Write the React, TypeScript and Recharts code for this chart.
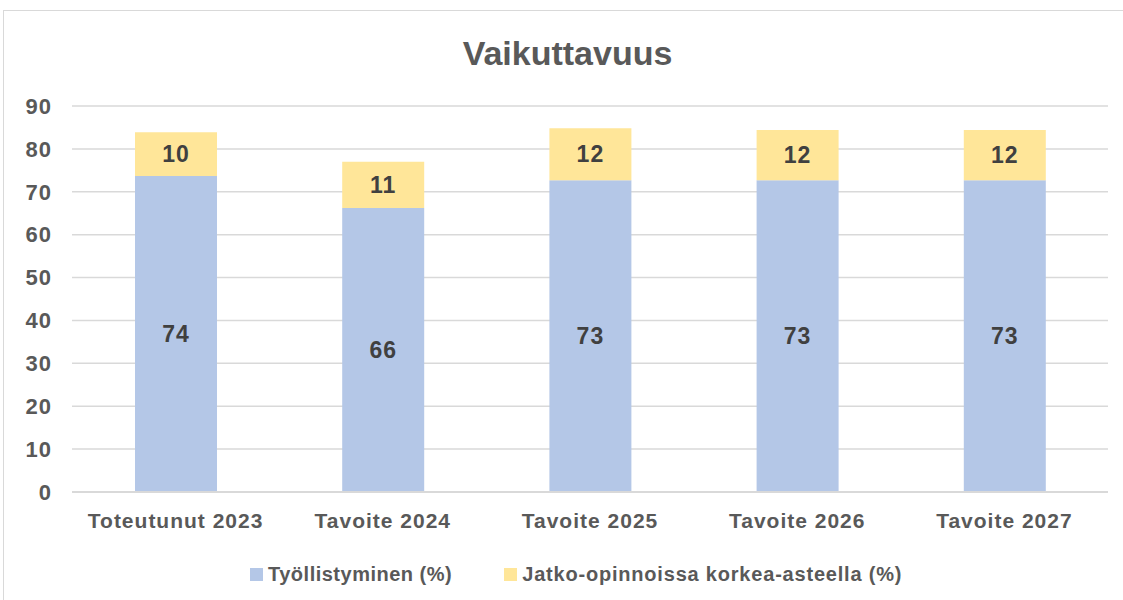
import { Bar, BarChart, CartesianGrid, LabelList, XAxis, YAxis } from 'recharts';

const categories = ['Toteutunut 2023', 'Tavoite 2024', 'Tavoite 2025', 'Tavoite 2026', 'Tavoite 2027'];
const tyollistyminen = [73.7, 66.2, 72.7, 72.7, 72.7];
const jatkoOpinnot = [10.2, 10.8, 12.1, 11.7, 11.7];
const yTicks = [0, 10, 20, 30, 40, 50, 60, 70, 80, 90];

const data = categories.map((name, i) => ({
  name,
  tyo: tyollistyminen[i],
  jatko: jatkoOpinnot[i],
}));

const FONT = '"Liberation Sans", Arial, sans-serif';
const BLUE = '#B4C7E7';
const YELLOW = '#FFE699';

const round = (v: unknown) => Math.round(Number(v));

export default function App() {
  return (
    <div style={{ position: 'absolute', left: 0, top: 0, width: 1123, height: 600, overflow: 'hidden', fontFamily: FONT, background: '#fff' }}>
      <div
        style={{
          position: 'absolute',
          left: 3,
          top: 10,
          width: 1130,
          height: 600,
          border: '1.5px solid #d9d9d9',
        }}
      />
      <div
        style={{
          position: 'absolute',
          top: 34,
          left: 0,
          width: 1135,
          textAlign: 'center',
          fontSize: 34,
          fontWeight: 'bold',
          color: '#595959',
        }}
      >
        Vaikuttavuus
      </div>
      <div style={{ position: 'absolute', left: 0, top: 0 }}>
        <BarChart width={1123} height={600} data={data} margin={{ top: 106, right: 15, bottom: 66, left: 0 }}>
          <CartesianGrid vertical={false} stroke="#d9d9d9" strokeWidth={1.5} />
          <XAxis
            dataKey="name"
            tickLine={false}
            axisLine={{ stroke: '#d9d9d9', strokeWidth: 2 }}
            tick={{ fontSize: 21, fontWeight: 'bold', fill: '#595959', letterSpacing: 1 }}
            tickMargin={15}
            height={42}
          />
          <YAxis
            domain={[0, 90]}
            ticks={yTicks}
            tickLine={false}
            axisLine={false}
            width={72}
            tick={{ fontSize: 22, fontWeight: 'bold', fill: '#595959', letterSpacing: 1 }}
            tickMargin={14}
          />
          <Bar dataKey="tyo" stackId="a" fill={BLUE} barSize={82} isAnimationActive={false}>
            <LabelList
              dataKey="tyo"
              position="center"
              formatter={round}
              style={{ fontSize: 23, fontWeight: 'bold', fill: '#404040', letterSpacing: 1 }}
            />
          </Bar>
          <Bar dataKey="jatko" stackId="a" fill={YELLOW} barSize={82} isAnimationActive={false}>
            <LabelList
              dataKey="jatko"
              position="center"
              formatter={round}
              style={{ fontSize: 23, fontWeight: 'bold', fill: '#404040', letterSpacing: 1 }}
            />
          </Bar>
        </BarChart>
      </div>
      <div
        style={{
          position: 'absolute',
          top: 563,
          left: 250,
          display: 'flex',
          alignItems: 'center',
          fontSize: 20,
          fontWeight: 'bold',
          color: '#595959',
          letterSpacing: 0.8,
        }}
      >
        <span style={{ display: 'inline-block', width: 13, height: 13, background: BLUE, marginRight: 5 }} />
        <span style={{ letterSpacing: 0.5 }}>Työllistyminen (%)</span>
        <span style={{ display: 'inline-block', width: 13, height: 13, background: YELLOW, marginLeft: 52, marginRight: 5 }} />
        <span>Jatko-opinnoissa korkea-asteella (%)</span>
      </div>
    </div>
  );
}
